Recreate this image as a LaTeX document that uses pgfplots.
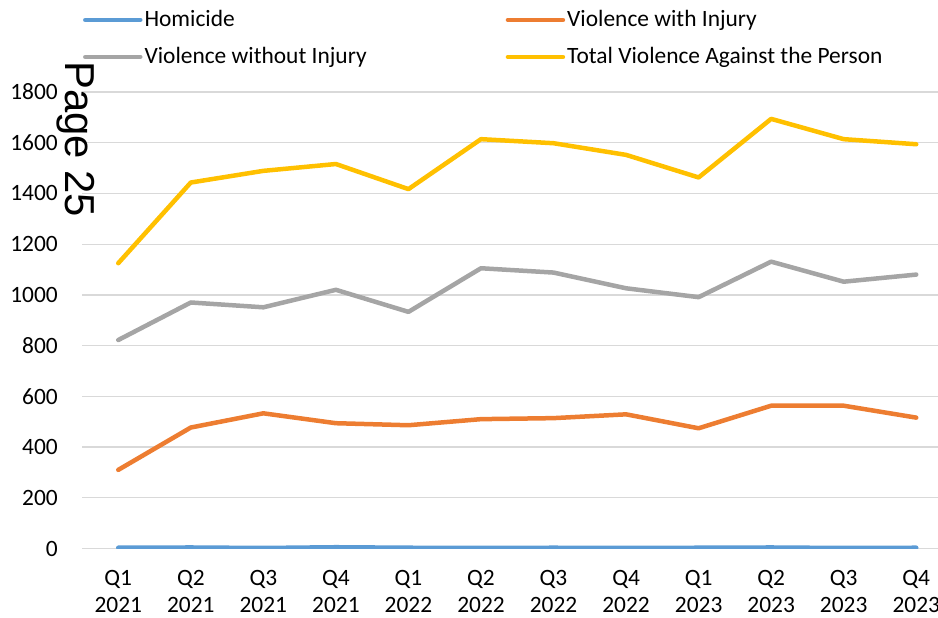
\documentclass[border=0pt]{standalone}
\usepackage{fontspec}
\setmainfont{Carlito}
\newfontfamily\arialfont{Liberation Sans}
\usepackage{pgfplots}
\pgfplotsset{compat=1.18}

\definecolor{homi}{HTML}{5B9BD5}
\definecolor{vwi}{HTML}{ED7D31}
\definecolor{vwoi}{HTML}{A5A5A5}
\definecolor{tvap}{HTML}{FFC000}
\definecolor{gridgray}{HTML}{D9D9D9}

\begin{document}
\begin{tikzpicture}[x=1bp,y=1bp]
\useasboundingbox (0,0) rectangle (938,618);
\begin{axis}[
  at={(82bp,69.5bp)}, anchor=south west,
  width=856bp, height=456.5bp, scale only axis,
  xmin=-0.5, xmax=11.3, ymin=0, ymax=1800,
  ytick={0,200,...,1800},
  xtick={0,...,11},
  xticklabels={{Q1\\2021},{Q2\\2021},{Q3\\2021},{Q4\\2021},
               {Q1\\2022},{Q2\\2022},{Q3\\2022},{Q4\\2022},
               {Q1\\2023},{Q2\\2023},{Q3\\2023},{Q4\\2023}},
  /pgf/number format/assume math mode=true,
  /pgf/number format/1000 sep={},
  tick label style={font=\fontsize{23.5}{27}\selectfont},
  xticklabel style={align=center, inner sep=0pt, text depth=0pt, yshift=-22bp},
  yticklabel style={inner sep=0pt, xshift=-24bp},
  axis line style={draw=none},
  major tick length=0pt,
  ymajorgrids, grid style={color=gridgray, line width=1.3bp},
  every axis plot/.append style={line width=4.5bp, line cap=round, line join=round},
  legend columns=2,
  legend image code/.code={\draw[#1, line width=4.5bp, line cap=round] (0bp,0bp) -- (55bp,0bp);},
  legend style={
    at={(axis description cs:0.0012,1.0)}, anchor=south west, yshift=24bp,
    draw=none, fill=none, inner sep=0pt, outer sep=0pt,
    column sep=2bp, row sep=15bp,
    font=\fontsize{23.5}{28}\selectfont,
    nodes={inner sep=0pt, text height=18bp, text depth=4bp, anchor=west},
    /tikz/every even column/.append style={column sep=139bp}},
  legend cell align=left,
]
\addplot[homi] coordinates {
  (0,3) (1,4) (2,2) (3,5) (4,3) (5,2) (6,3) (7,2) (8,3) (9,4) (10,2) (11,3)
};
\addplot[vwi] coordinates {
  (0,310) (1,477) (2,533) (3,494) (4,486) (5,510) (6,514) (7,529) (8,474) (9,563) (10,563) (11,516)
};
\addplot[vwoi] coordinates {
  (0,822) (1,970) (2,951) (3,1020) (4,933) (5,1105) (6,1088) (7,1026) (8,991) (9,1131) (10,1052) (11,1080)
};
\addplot[tvap] coordinates {
  (0,1125) (1,1443) (2,1489) (3,1516) (4,1417) (5,1614) (6,1598) (7,1552) (8,1463) (9,1694) (10,1614) (11,1594)
};
\legend{Homicide, Violence with Injury, Violence without Injury, Total Violence Against the Person}
\end{axis}
\node[rotate=-90, anchor=base west, inner sep=0pt,
      font=\arialfont\fontsize{42}{50}\selectfont] at (65,557) {Page 25};
\end{tikzpicture}
\end{document}
